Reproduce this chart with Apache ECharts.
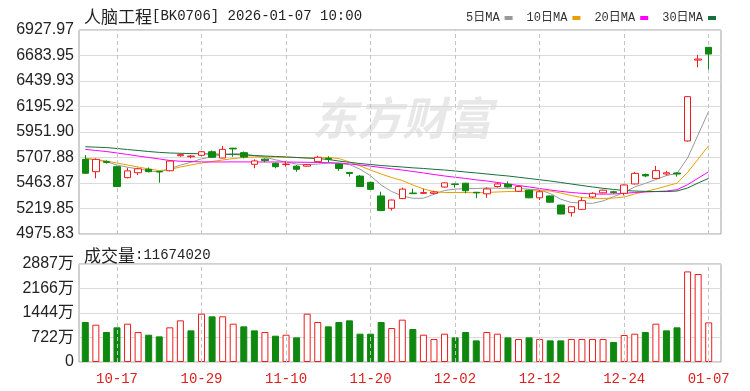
<!DOCTYPE html>
<html><head><meta charset="utf-8">
<script src="https://cdn.jsdelivr.net/npm/echarts@6/dist/echarts.min.js"></script>
<style>html,body{margin:0;padding:0;background:#fff}#c{width:750px;height:391px}</style>
</head><body><div id="c"></div>
<script>
const dates = ['10-14','10-15','10-16','10-17','10-20','10-21','10-22','10-23','10-24','10-27','10-28','10-29','10-30','10-31','11-03','11-04','11-05','11-06','11-07','11-10','11-11','11-12','11-13','11-14','11-17','11-18','11-19','11-20','11-21','11-24','11-25','11-26','11-27','11-28','12-01','12-02','12-03','12-04','12-05','12-08','12-09','12-10','12-11','12-12','12-15','12-16','12-17','12-18','12-19','12-22','12-23','12-24','12-25','12-26','12-29','12-30','12-31','01-05','01-06','01-07'];
const opens = [5690,5572,5668,5620,5515,5562,5595,5575,5581,5725,5715,5729,5763,5703,5797,5754,5643,5692,5652,5640,5625,5625,5668,5700,5645,5565,5530,5470,5340,5222,5315,5368,5365,5365,5425,5455,5462,5375,5360,5430,5452,5385,5395,5322,5340,5253,5180,5212,5330,5370,5380,5365,5455,5545,5508,5550,5560,5866,6640,6762];
const closes = [5557,5690,5660,5430,5580,5600,5572,5570,5674,5735,5722,5763,5710,5786,5790,5712,5675,5678,5620,5645,5595,5640,5710,5690,5603,5555,5430,5403,5200,5301,5405,5362,5372,5378,5465,5450,5390,5370,5407,5455,5426,5430,5322,5380,5280,5167,5237,5295,5365,5395,5372,5445,5556,5532,5582,5562,5550,6290,6650,6698];
const lows = [5550,5509,5650,5425,5508,5540,5565,5467,5575,5715,5700,5720,5705,5700,5715,5700,5605,5662,5605,5620,5572,5620,5665,5660,5580,5525,5425,5400,5195,5200,5310,5360,5362,5355,5420,5420,5365,5318,5322,5420,5420,5378,5318,5300,5275,5165,5142,5205,5320,5365,5360,5345,5450,5520,5505,5535,5525,5860,6572,6552];
const highs = [5731,5700,5680,5630,5610,5610,5612,5578,5680,5745,5732,5770,5775,5818,5800,5765,5690,5700,5660,5670,5635,5645,5725,5720,5650,5568,5540,5475,5380,5305,5420,5410,5410,5390,5470,5458,5465,5378,5422,5470,5480,5440,5400,5395,5345,5255,5240,5327,5375,5400,5390,5450,5570,5555,5627,5580,5565,6295,6690,6765];
const volumes = [1178,1099,883,1021,1129,883,804,755,1021,1227,932,1423,1345,1345,1129,1050,932,883,775,804,725,1423,1178,1050,1178,1227,834,834,1178,1001,1247,972,804,677,834,725,883,637,883,834,725,677,725,677,637,637,677,677,677,677,588,795,834,883,1129,932,1021,2669,2592,1167];
const ma5 = [5698,5684,5668,5636,5615,5598,5582,5568,5600,5635,5662,5695,5715,5735,5745,5742,5725,5710,5686,5664,5645,5638,5645,5654,5650,5641,5596,5533,5444,5382,5340,5318,5318,5356,5392,5405,5411,5411,5416,5414,5412,5413,5404,5398,5363,5309,5277,5272,5269,5292,5333,5374,5427,5460,5497,5535,5556,5703,5927,6150];
const ma10 = [5700,5689,5674,5655,5636,5617,5598,5583,5593,5617,5636,5655,5670,5684,5698,5708,5713,5713,5713,5711,5708,5703,5705,5708,5698,5665,5627,5588,5550,5516,5488,5445,5407,5382,5373,5373,5373,5370,5373,5378,5382,5382,5387,5392,5387,5368,5344,5325,5318,5316,5320,5330,5359,5382,5406,5435,5462,5565,5693,5822];
const ma20 = [5786,5775,5765,5751,5737,5722,5708,5694,5679,5672,5669,5666,5665,5665,5666,5666,5665,5665,5665,5665,5663,5662,5660,5658,5655,5646,5636,5625,5612,5600,5588,5574,5560,5545,5531,5519,5507,5494,5483,5469,5454,5440,5426,5411,5397,5384,5373,5365,5359,5357,5359,5365,5373,5378,5382,5387,5400,5448,5510,5572];
const ma30 = [5811,5807,5803,5794,5784,5775,5765,5757,5751,5748,5746,5743,5741,5739,5737,5732,5727,5722,5718,5713,5708,5703,5698,5689,5674,5662,5650,5641,5631,5624,5617,5609,5603,5595,5588,5579,5569,5560,5550,5540,5531,5519,5507,5495,5483,5469,5454,5440,5426,5413,5402,5392,5387,5384,5382,5382,5387,5416,5464,5509];
const priceTicks = ['4975.83','5219.85','5463.87','5707.88','5951.90','6195.92','6439.93','6683.95','6927.97'];
const volTicks = ['0','722万','1444万','2166万','2887万'];
const markDates = ['10-17','10-29','11-10','11-20','12-02','12-12','12-24','01-07'];
const maNames = ['5日MA','10日MA','20日MA','30日MA'];
const prevClose0 = 5600;
const priceMin = 4975.83, priceMax = 6927.97, volMax = 2887;

const RED = '#ee1c1c', GREEN = '#0f880f';
const chart = echarts.init(document.getElementById('c'), null, {renderer: 'canvas'});
const cjk = 'Noto Sans CJK SC';
const mono = 'Liberation Mono';
const vline = {
  silent: true, symbol: ['none', 'none'], label: {show: false},
  lineStyle: {type: [4, 3], color: '#c4c4c4', width: 1},
  emphasis: {disabled: true},
  data: markDates.map(d => ({xAxis: d}))
};
const volData = volumes.map((v, i) => {
  const pc = i === 0 ? prevClose0 : closes[i - 1];
  const up = closes[i] >= pc;
  return {value: v, itemStyle: up ? {color: '#fff', borderColor: RED, borderWidth: 1} : {color: GREEN, borderColor: GREEN, borderWidth: 1}};
});
const maColors = ['#999999', '#e8a000', '#ff00ff', '#15703a'];
const maData = [ma5, ma10, ma20, ma30];
const richTxt = {a: {fontFamily: cjk, fontSize: 17, color: '#222', fontWeight: 'normal'}, b: {fontFamily: mono, fontSize: 14, color: '#222', fontWeight: 'normal'}};

chart.setOption({
  animation: false,
  title: [
    {text: '{a|人脑工程}{b|[BK0706] 2026-01-07 10:00}', left: 79, top: 3, textStyle: {fontWeight: 'normal', rich: richTxt}},
    {text: '{a|成交量}{b|:11674020}', left: 79, top: 242, textStyle: {fontWeight: 'normal', rich: richTxt}}
  ],
  legend: {
    data: maNames, left: 461, top: 7, align: 'right', icon: 'rect', itemWidth: 8, itemHeight: 4, itemGap: 14,
    textStyle: {fontFamily: mono + ',' + cjk, fontSize: 12, color: '#333'}, selectedMode: false
  },
  graphic: [
    {type: 'text', left: 312, top: 95, z: -1, silent: true,
     style: {text: '东方财富', font: 'italic bold 45px "Noto Sans CJK SC"', fill: '#e8e8e8'}}
  ],
  grid: [
    {left: 79, top: 30, width: 642, height: 204, show: true, borderColor: '#a0a0a0', borderWidth: 1, backgroundColor: 'transparent'},
    {left: 80, top: 30, width: 634, height: 204},
    {left: 79, top: 264, width: 642, height: 98, show: true, borderColor: '#a0a0a0', borderWidth: 1, backgroundColor: 'transparent'},
    {left: 80, top: 264, width: 634, height: 98}
  ],
  xAxis: [
    {gridIndex: 0, type: 'value', min: 0, max: 1, show: false},
    {gridIndex: 1, type: 'category', data: dates, boundaryGap: true, show: false},
    {gridIndex: 2, type: 'value', min: 0, max: 1, show: false},
    {gridIndex: 3, type: 'category', data: dates, boundaryGap: true,
     axisLine: {show: false}, axisTick: {show: false}, splitLine: {show: false},
     axisLabel: {interval: (idx, val) => markDates.includes(val), color: '#dd1f1f', fontFamily: mono, fontSize: 14, margin: 10}}
  ],
  yAxis: [
    {gridIndex: 0, type: 'value', min: 0, max: 8, interval: 1,
     axisLine: {show: false}, axisTick: {show: false},
     splitLine: {lineStyle: {color: '#dadada', width: 1}},
     axisLabel: {formatter: v => priceTicks[Math.round(v)], fontFamily: 'Liberation Sans', fontSize: 16, color: '#222', margin: 5}},
    {gridIndex: 1, type: 'value', min: priceMin, max: priceMax, show: false, splitLine: {show: false}},
    {gridIndex: 2, type: 'value', min: 0, max: 4, interval: 1,
     axisLine: {show: false}, axisTick: {show: false},
     splitLine: {lineStyle: {color: '#dadada', width: 1}},
     axisLabel: {formatter: v => volTicks[Math.round(v)], fontFamily: 'Liberation Sans,' + cjk, fontSize: 16, color: '#222', margin: 5}},
    {gridIndex: 3, type: 'value', min: 0, max: volMax, show: false, splitLine: {show: false}}
  ],
  series: [
    {type: 'candlestick', name: 'K', xAxisIndex: 1, yAxisIndex: 1, barWidth: 7, z: 5,
     data: dates.map((d, i) => [opens[i], closes[i], lows[i], highs[i]]),
     itemStyle: {color: '#fff', color0: GREEN, borderColor: RED, borderColor0: GREEN, borderWidth: 1},
     markLine: vline}
  ].concat(maNames.map((n, k) => ({
    type: 'line', name: n, xAxisIndex: 1, yAxisIndex: 1, data: maData[k], showSymbol: false, symbol: 'none',
    lineStyle: {width: 1, color: maColors[k]}, itemStyle: {color: maColors[k]}, z: 3, silent: true
  }))).concat([
    {type: 'bar', name: 'VOL', xAxisIndex: 3, yAxisIndex: 3, barWidth: 7, data: volData, markLine: vline}
  ])
});
</script></body></html>
